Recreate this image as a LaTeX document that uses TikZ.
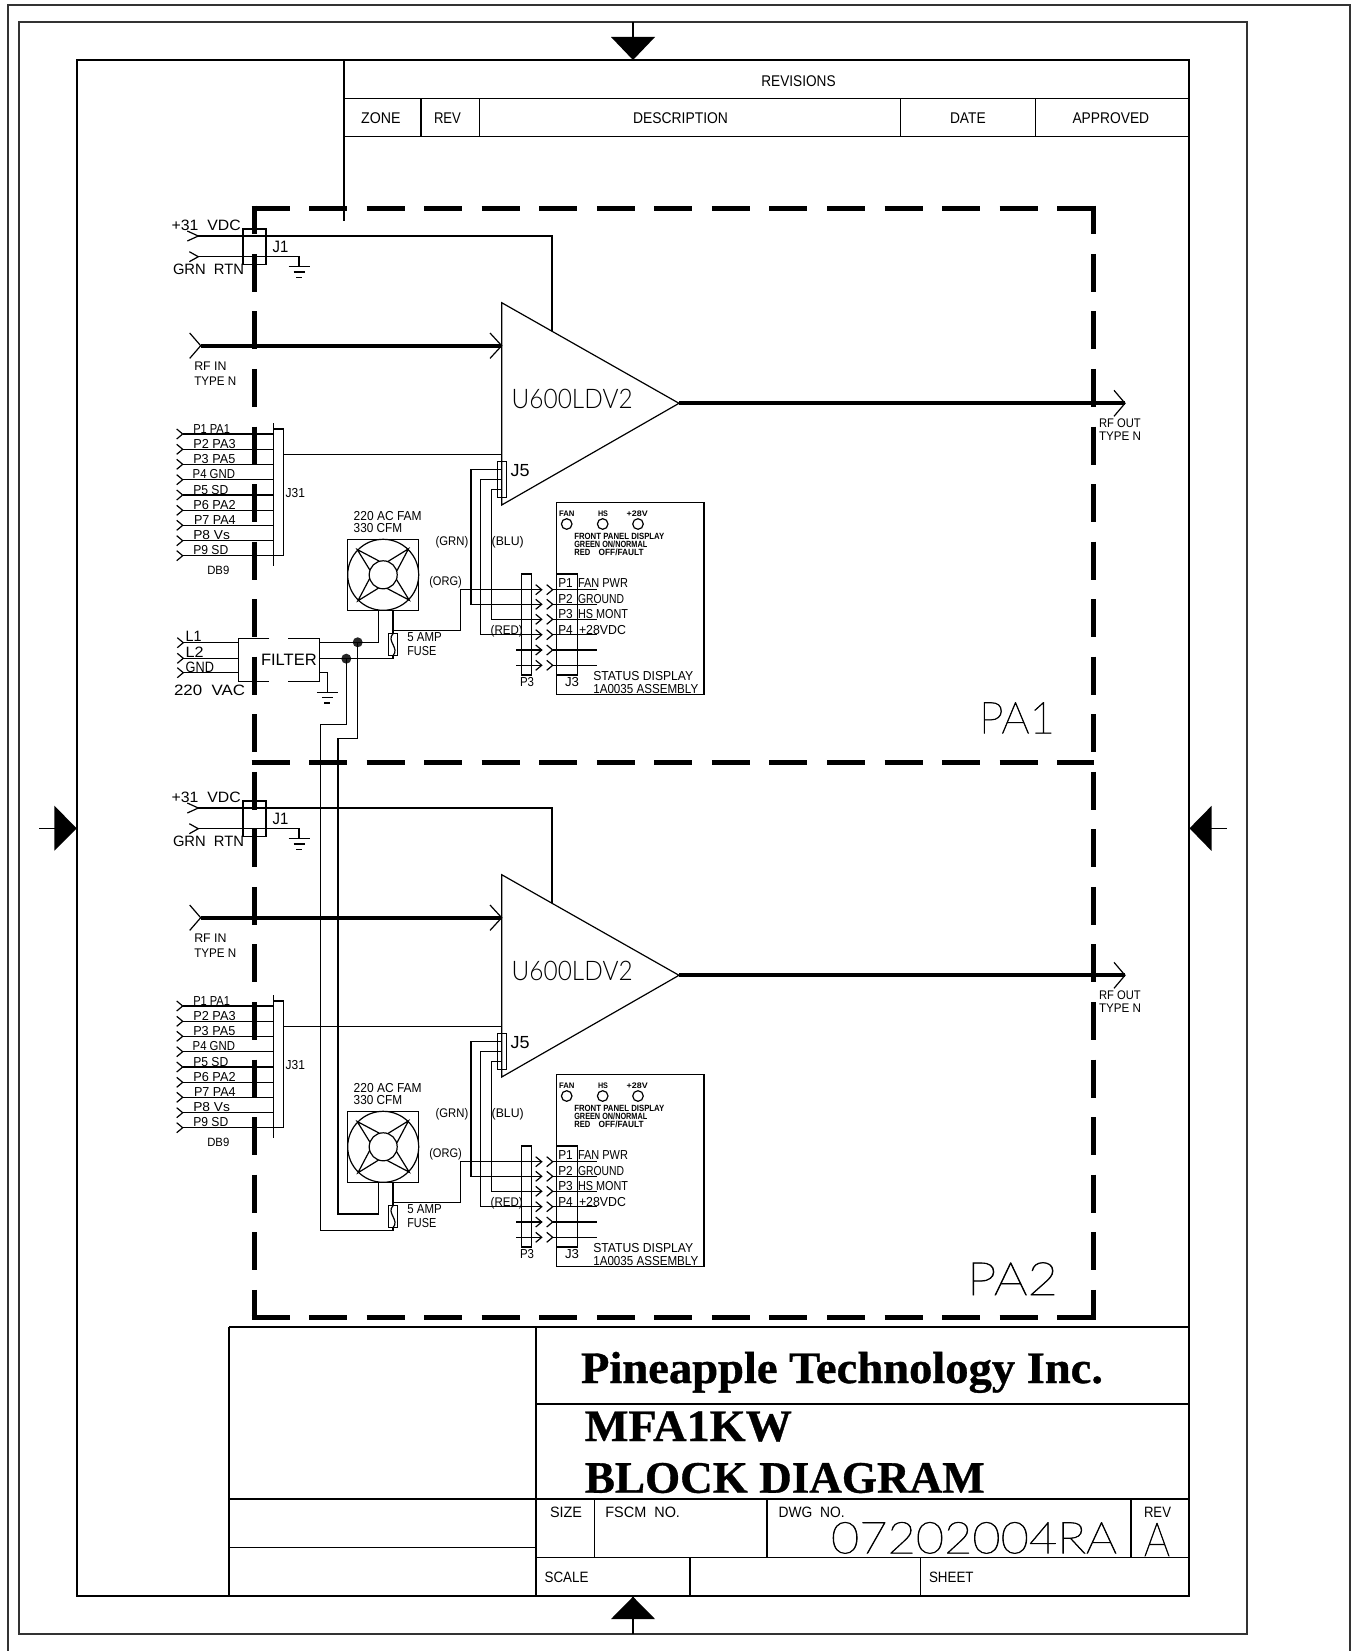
\documentclass[tikz,border=0pt]{standalone}
\usepackage{fontspec}
\usepackage{graphicx}
\setmainfont{Liberation Sans}
\newfontfamily\ttl[RawFeature={embolden=0.8}]{Liberation Serif Bold}
\newfontfamily\thinf[RawFeature={embolden=1.5}]{Lato Thin}
\newfontfamily\lightf{Lato Light}
\newlength\twd
% [font switch]{name}{x,y}{size}{width}{text}
\newcommand\txt[6][]{\node[inner sep=0pt,outer sep=0pt,anchor=base west] (#2) at (#3) {\settowidth\twd{#1\fontsize{#4}{#4}\selectfont #6}\pgfmathsetmacro\rto{#5/\twd}\scalebox{\rto}[1]{#1\fontsize{#4}{#4}\selectfont #6}};}
\newcommand\bxn[5]{\pgfmathsetmacro\bxw{#4-#2}\pgfmathsetmacro\bxh{#5-#3}\node[boxn,minimum width=\bxw pt,minimum height=\bxh pt] (#1) at ({(#2+#4)/2},{(#3+#5)/2}) {};}
\newcommand\chev[2][6]{\draw[wire] (#2) ++(-#1,-5) -- (#2) -- ++(-#1,5);}
\newcommand\gndsym[1]{\draw[wire] (#1) ++(-10.5,0) -- ++(21,0) ++(-16,5.3) -- ++(11,0) ++(-8.5,5.3) -- ++(6,0);}
\tikzset{
 wire/.style={line width=1.2pt,line join=miter},
 heavy/.style={line width=4pt},
 frame/.style={line width=1.8pt},
 rule/.style={line width=1.4pt},
 boxn/.style={draw,line width=1.2pt,inner sep=0pt,outer sep=0pt,rectangle},
 led/.style={draw,line width=1.2pt,circle,inner sep=0pt,outer sep=0pt,minimum size=10.6pt},
 dotn/.style={fill=black!85,circle,inner sep=0pt,outer sep=0pt,minimum size=10pt},
 dashh/.style={line width=5pt,dash pattern=on 38pt off 19.55pt},
 dashv/.style={line width=5pt,dash pattern=on 38pt off 19.55pt,dash phase=9.2pt},
}
\newcommand\PA[2]{%
\begin{scope}[shift={(0,#2)}]
 % J1
 \coordinate (#1vin) at (198.3,236); \coordinate (#1rtn) at (198.3,256.7);
 \coordinate (#1vt) at (552,236); \coordinate (#1vb) at (552,331.4);
 \coordinate (#1gn) at (299,266.7);
 \bxn{#1Jone}{243}{229}{266}{264.3}
 \chev[11]{#1vin}\chev[9]{#1rtn}
 \draw[wire] (#1vin) -- (#1vt) -- (#1vb);
 \draw[wire] (#1rtn) -| (#1gn);
 \gndsym{#1gn}
 \txt{#1tv}{171.7,230}{15}{69}{+31\ \ VDC}
 \txt{#1tg}{173,274}{15}{71}{GRN\ \ RTN}
 \txt{#1tj}{272.7,252.3}{16.5}{15.7}{J1}
 % amplifier
 \coordinate (#1at) at (501.7,302.7); \coordinate (#1ao) at (679,403.3); \coordinate (#1ab) at (501.7,505);
 \coordinate (#1ai) at (501.7,345.7); \coordinate (#1rfi) at (200.7,345.7); \coordinate (#1rfo) at (1125,403.3);
 \coordinate (#1a31) at (501.7,454.7);
 \draw[wire] (#1at) -- (#1ao) -- (#1ab) -- cycle;
 \txt[\lightf]{#1tu}{511.7,408.5}{27}{121}{U600LDV2}
 \draw[heavy] (#1rfi) -- (#1ai);
 \draw[heavy] (#1ao) -- (#1rfo);
 \draw[wire] (#1rfi) ++(-11,-12.7) -- (#1rfi) -- ++(-11,12.7);
 \draw[wire] (#1ai) ++(-11.7,-12.7) -- (#1ai) -- ++(-11.7,12.7);
 \draw[wire] (#1rfo) ++(-11,-13) -- (#1rfo) -- ++(-11,13);
 \txt{#1ti}{194.3,370}{12.5}{32.3}{RF\ IN}
 \txt{#1tn}{194.3,385.7}{12.5}{42}{TYPE N}
 \txt{#1to}{1099,427}{12.5}{41.7}{RF\ OUT}
 \txt{#1tp}{1099,440}{12.5}{42}{TYPE N}
 % J31
 \bxn{#1Jtt}{273.7}{429}{283.7}{555.7}
 \coordinate (#1jt) at (273.7,423.3); \coordinate (#1jb) at (273.7,566);
 \draw[wire] (#1jt) -- (#1jb);
 \draw[wire] (#1Jtt.east |- #1a31) -- (#1a31);
 \foreach \n/\y in {1/434,2/449.3,3/464.3,4/479.7,5/495,6/510.3,7/525.3,8/540.7,9/555.7}{
  \coordinate (#1pin\n) at (182.7,\y);
  \chev{#1pin\n}
  \draw[wire] (#1pin\n) -- (#1Jtt.west |- #1pin\n);
 }
 \txt{#1p1}{193.3,433}{13}{36.7}{P1 PA1}
 \txt{#1p2}{193.3,448.3}{13}{42.3}{P2 PA3}
 \txt{#1p3}{193.3,463.3}{13}{42}{P3 PA5}
 \txt{#1p4}{192.7,478.5}{13}{42.3}{P4 GND}
 \txt{#1p5}{193.3,494.1}{13}{35}{P5 SD}
 \txt{#1p6}{193.3,509.3}{13}{42.3}{P6 PA2}
 \txt{#1p7}{194,524.3}{13}{41.7}{P7 PA4}
 \txt{#1p8}{193.3,539.5}{13}{36.7}{P8 Vs}
 \txt{#1p9}{193.3,554.8}{13}{35}{P9 SD}
 \txt{#1tjt}{285.7,497.7}{13}{19.3}{J31}
 \txt{#1tdb}{207.3,574}{12}{22}{DB9}
 % J5
 \bxn{#1Jfive}{497.3}{461.7}{506.7}{497.3}
 \txt{#1tjf}{510.7,476}{17.5}{19}{J5}
 % fan
 \bxn{#1fan}{347.7}{539.3}{418.7}{610.3}
 \node[led,minimum size=71pt] (#1fano) at (383.2,574.8) {};
 \node[led,minimum size=28pt] (#1fani) at (383.2,574.8) {};
 \foreach \r in {0,90,180,270}{
  \draw[wire,shift={(383.2,574.8)},rotate=\r] (-13.3,-4.7) -- (-26,-25.3) -- (-4,-13.7);
 }
 \txt{#1tf}{353.7,520}{13}{68}{220 AC FAM}
 \txt{#1tc}{353.7,532.7}{13}{48.5}{330 CFM}
 % fuse
 \bxn{#1fuse}{388.3}{633.7}{397.7}{655.7}
 \coordinate (#1fr) at (393,610.3); \coordinate (#1fl) at (378.3,610.3);
 \coordinate (#1fw) at (393,630.7);
 \draw[wire] (#1fr) -- (#1fuse.north);
 \draw[wire] (#1fuse.south) -- ++(0,3) coordinate (#1fbb);
 \draw[wire] (#1fuse.north) .. controls (386,641) and (400,648) .. (#1fuse.south);
 \txt{#1ta}{407.3,641.7}{13}{34.4}{5 AMP}
 \txt{#1tb}{407.3,655}{13}{29}{FUSE}
 % P3 / J3 / display
 \bxn{#1Pthree}{521.3}{574}{531.3}{675}
 \bxn{#1Jthree}{556.7}{574}{577.3}{675}
 \bxn{#1disp}{556.7}{502.7}{704}{694.7}
 \txt{#1tpt}{520,686.7}{13}{14}{P3}
 \txt{#1tjth}{565,686.7}{13}{14}{J3}
 \foreach \n/\y in {1/589.7,2/604.3,3/619.3,4/634.7,5/650,6/665.3}{
  \coordinate (#1tp\n) at (541.7,\y);
  \coordinate (#1sp\n) at (552.7,\y);
  \coordinate (#1ep\n) at (597.3,\y);
  \chev{#1tp\n}\chev{#1sp\n}
  \draw[wire] (#1sp\n) -- (#1ep\n);
 }
 \draw[wire] (#1tp5) -- ++(-25.7,0);
 \draw[wire] (#1tp6) -- ++(-25.7,0);
 % wires from J5 and the fuse
 \coordinate (#1jg) at (502,469.3); \coordinate (#1jr) at (502,479.7); \coordinate (#1jb5) at (502,489.7);
 \draw[wire] (#1jg) -- ++(-31,0) |- (#1tp2);
 \draw[wire] (#1jr) -- ++(-21.7,0) |- (#1tp4);
 \draw[wire] (#1jb5) -- ++(-10.7,0) |- (#1tp3);
 \draw[wire] (#1tp1) -- ++(-81,0) |- (#1fw);
 \txt{#1tgr}{435.7,545}{12.5}{32.6}{(GRN)}
 \txt{#1tbl}{491.7,545}{12.5}{32}{(BLU)}
 \txt{#1tor}{429.3,585.7}{12.5}{32.6}{(ORG)}
 \txt{#1trd}{490.7,634}{12.5}{32}{(RED)}
 % LEDs and panel text
 \node[led] (#1l1) at (566.7,524) {};
 \node[led] (#1l2) at (602.7,524) {};
 \node[led] (#1l3) at (638,524) {};
 \txt[\bfseries]{#1tl1}{559,516}{8}{15.5}{FAN}
 \txt[\bfseries]{#1tl2}{598,516}{8}{10}{HS}
 \txt[\bfseries]{#1tl3}{626.7,516}{8}{21}{+28V}
 \txt[\bfseries]{#1tfp}{574.3,539}{9}{90}{FRONT PANEL DISPLAY}
 \txt[\bfseries]{#1tgn}{574.3,547.3}{9}{73}{GREEN ON/NORMAL}
 \txt[\bfseries]{#1trr}{574.3,555.7}{9}{16}{RED}
 \txt[\bfseries]{#1tof}{598.7,555.7}{9}{45}{OFF/FAULT}
 \txt{#1d1}{558.3,587.7}{13}{14.5}{P1}
 \txt{#1d2}{558.3,603.3}{13}{14.5}{P2}
 \txt{#1d3}{558.3,618.7}{13}{14.5}{P3}
 \txt{#1d4}{558.3,634.7}{13}{14.5}{P4}
 \txt{#1e1}{578,587.7}{13}{50}{FAN PWR}
 \txt{#1e2}{578,603.3}{13}{46}{GROUND}
 \txt{#1e3}{578,618.7}{13}{50}{HS MONT}
 \txt{#1e4}{579,634.7}{13}{47}{+28VDC}
 \txt{#1s1}{593.3,680.7}{13}{100}{STATUS DISPLAY}
 \txt{#1s2}{593.3,693.3}{13}{105}{1A0035 ASSEMBLY}
\end{scope}}
\begin{document}
\begin{tikzpicture}[x=1pt,y=-1pt]
\useasboundingbox (0,0) rectangle (1354,1651);
% sheet frames
\draw[frame,black!80] (7.6,1652) -- (7.6,5.3) -- (1350,5.3) -- (1350,1652);
\draw[frame,black!80] (18.7,22) rectangle (1247.3,1634.3);
\draw[frame] (76.8,60) rectangle (1189.3,1596);
% zone arrows
\coordinate (zt) at (633,60); \coordinate (zb) at (633,1596.7);
\coordinate (zl) at (76.7,828.3); \coordinate (zr) at (1189.5,828.3);
\fill (zt) -- ++(-22,-23) -- ++(44,0) -- cycle;
\fill (zb) -- ++(-22,22.3) -- ++(44,0) -- cycle;
\fill (zl) -- ++(-22.4,-22.6) -- ++(0,45) -- cycle;
\fill (zr) -- ++(22,-22.4) -- ++(0,45) -- cycle;
\draw[rule] (zt) -- ++(0,-38);
\draw[rule] (zb) -- ++(0,37.6);
\draw[rule] (zl) -- ++(-38,0);
\draw[rule] (zr) -- ++(37.3,0);
% revisions table
\draw[rule] (344,60) -- (344,221);
\draw[rule] (344,98.7) -- (1189.3,98.7);
\draw[rule] (344,136.7) -- (1189.3,136.7);
\foreach \x in {421,479.5,900.2,1035.3}{\draw[wire] (\x,98.7) -- (\x,136.7);}
\txt{rv}{761.3,87}{15.5}{74.3}{REVISIONS}
\txt{zo}{361.2,124}{15.5}{39.4}{ZONE}
\txt{re}{434,124}{15.5}{27}{REV}
\txt{de}{633,124}{15.5}{95}{DESCRIPTION}
\txt{da}{950,124}{15.5}{35.7}{DATE}
\txt{ap}{1072.5,124}{15.5}{76.7}{APPROVED}
% title block
\draw[frame] (229,1327) -- (229,1596);
\draw[rule] (229,1327) -- (1189.3,1327);
\draw[rule] (536,1327) -- (536,1596);
\draw[rule] (536,1404) -- (1189.3,1404);
\draw[rule] (229,1499) -- (1189.3,1499);
\draw[rule] (229,1547.7) -- (536,1547.7);
\draw[rule] (536,1557.3) -- (1189.3,1557.3);
\draw[wire] (594.6,1499) -- (594.6,1557.3);
\draw[wire] (767,1499) -- (767,1557.3);
\draw[wire] (1131,1499) -- (1131,1557.3);
\draw[wire] (690,1557.3) -- (690,1596);
\draw[wire] (920.6,1557.3) -- (920.6,1596);
\txt[\ttl]{t1}{581,1383}{45}{522}{Pineapple Technology Inc.}
\txt[\ttl]{t2}{584.8,1441}{45}{207}{MFA1KW}
\txt[\ttl]{t3}{584.8,1492.7}{45}{400}{BLOCK DIAGRAM}
\txt{ts}{550,1517.7}{15}{32}{SIZE}
\txt{tf}{605.4,1517.7}{15}{74.6}{FSCM\ \ NO.}
\txt{tw}{778.7,1517.7}{15}{66}{DWG\ \ NO.}
\txt{tr}{1144,1517.7}{15}{27}{REV}
\txt{tl}{544.6,1582.7}{15}{44}{SCALE}
\txt{th}{929,1582.7}{15}{44.6}{SHEET}
\txt[\thinf]{tn}{831,1553.3}{44}{286}{07202004RA}
\txt[\thinf]{ta}{1144,1556}{47}{26}{A}
% two amplifier sections
\PA{a}{0}
\PA{b}{572}
\txt[\thinf]{pa}{979,733.3}{44}{76}{PA1}
\txt[\thinf]{pb}{967,1295}{46}{91}{PA2}
% boundary dashes
\draw[dashh] (251.5,208) -- (1096,208);
\draw[dashh] (251.5,1317.3) -- (1096,1317.3);
\draw[dashh] (251.5,762.7) -- (1094,762.7);
\draw[dashv] (254,205.5) -- (254,1319.8);
\draw[dashv] (1093.5,205.5) -- (1093.5,1319.8);
% mains filter
\coordinate (f1) at (319.3,642.3); \coordinate (f2) at (319.3,658.7); \coordinate (f3) at (319.3,672.7);
\coordinate (l1) at (183.3,642.7); \coordinate (l2) at (183.3,658.3); \coordinate (l3) at (183.3,672.7);
\coordinate (fw) at (238.3,642.7);\coordinate (fg) at (327.3,692.3);
\draw[rule] (269.3,638.7) -- (238.3,638.7) -- (238.3,681.7) -- (269.3,681.7);
\draw[rule] (288.3,638.7) -- (319.3,638.7) -- (319.3,681.7) -- (288.3,681.7);
\foreach \n in {1,2,3}{\chev{l\n}\draw[wire] (l\n) -- (fw |- l\n);}
\txt{tfl}{261,665}{16.5}{55.7}{FILTER}
\txt{tl1}{185.7,641.7}{15}{16}{L1}
\txt{tl2}{185.7,657.3}{15}{18}{L2}
\txt{tgn}{185.7,672}{15}{28.3}{GND}
\txt{tvac}{174,695}{15}{71}{220\ \ VAC}
\draw[wire] (f3) -| (fg);
\gndsym{fg}
% fan and fuse feeds
\node[dotn] (n1) at (357.7,642.3) {};
\node[dotn] (n2) at (346.3,658.7) {};
\coordinate (x2) at (320.5,1230.7); \coordinate (x1) at (338,1214);
\draw[wire] (afl) |- (f1);
\draw[wire] (afbb) -- (f2);
\draw[wire] (n2.center) -- ++(0,65.6) -| (x2) -- (bfbb);
\draw[wire] (n1.center) -- ++(0,96.4) -| (x1) -| (bfl);
\end{tikzpicture}
\end{document}
